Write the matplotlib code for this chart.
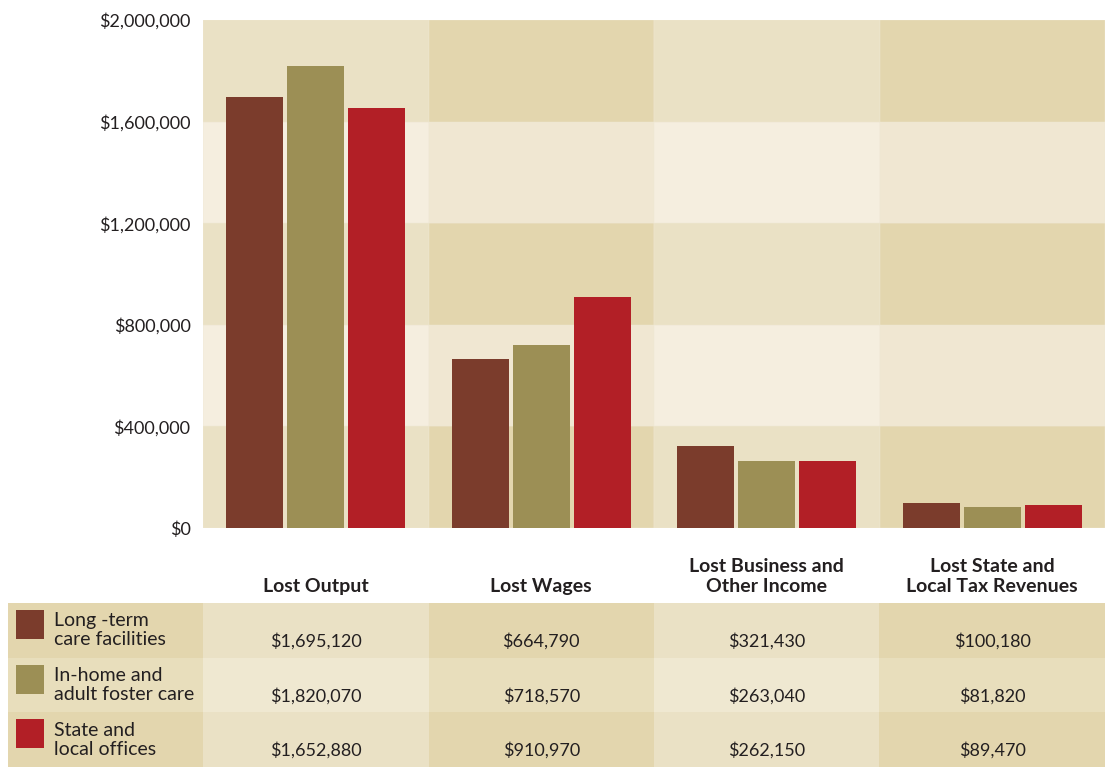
import matplotlib.pyplot as plt
from matplotlib.patches import Rectangle
from matplotlib.ticker import FuncFormatter

categories = ['Lost Output', 'Lost Wages', 'Lost Business and\nOther Income',
              'Lost State and\nLocal Tax Revenues']
series_names = ['Long -term\ncare facilities', 'In-home and\nadult foster care',
                'State and\nlocal offices']
long_term = [1695120, 664790, 321430, 100180]
in_home = [1820070, 718570, 263040, 81820]
state_local = [1652880, 910970, 262150, 89470]
yticks = [0, 400000, 800000, 1200000, 1600000, 2000000]

BAR_COLORS = ['#7B3C2C', '#9C8F55', '#B21F26']
TEXT = '#231F20'
# (dark band, light band) for the two alternating column shades
CHART_BG = [('#EAE1C5', '#F5EEDF'), ('#E3D6AE', '#F0E7D2')]
TABLE_BG = [('#EAE1C5', '#EFE8D1'), ('#E3D6AE', '#E8DEBC')]

plt.rcParams['font.family'] = ['Lato', 'DejaVu Sans']

W, H = 1105, 767
fig = plt.figure(figsize=(W / 100, H / 100), dpi=100)

# ---------------- bar chart ----------------
ax = fig.add_axes([203 / W, (H - 528) / H, 902 / W, 508 / H])
ax.set_xlim(-0.5, len(categories) - 0.5)
ax.set_ylim(yticks[0], yticks[-1])

for i in range(len(categories)):
    dark, light = CHART_BG[i % 2]
    for j in range(len(yticks) - 1):
        ax.add_patch(Rectangle((i - 0.5, yticks[j]), 1, yticks[j + 1] - yticks[j],
                               facecolor=dark if j % 2 == 0 else light,
                               edgecolor='#EFE7D3', linewidth=0.3, zorder=0))

series = [long_term, in_home, state_local]
step, width = 0.27, 0.253
for k, vals in enumerate(series):
    xs = [i + (k - 1) * step for i in range(len(categories))]
    ax.bar(xs, vals, width=width, color=BAR_COLORS[k], zorder=2)

ax.set_xticks([])
ax.set_yticks(yticks)
ax.yaxis.set_major_formatter(FuncFormatter(lambda v, p: f'${v:,.0f}'))
ax.tick_params(axis='y', length=0, pad=9, labelsize=13, labelcolor=TEXT)
for s in ax.spines.values():
    s.set_visible(False)

trans = ax.get_xaxis_transform()
for i, cat in enumerate(categories):
    ax.text(i, -0.131, cat, transform=trans, ha='center', va='bottom',
            fontsize=14, fontweight='bold', color=TEXT, linespacing=1.15)

# ---------------- data table ----------------
px = 902 / len(categories)  # pixels per category unit
tx = fig.add_axes([8 / W, 0, (W - 8) / W, 164 / H])
left = -0.5 - 195 / px
tx.set_xlim(left, len(categories) - 0.5)
tx.set_ylim(len(series), 0)
tx.axis('off')

for i in range(-1, len(categories)):
    dark, light = TABLE_BG[i % 2]
    x0 = left if i < 0 else i - 0.5
    w = 195 / px if i < 0 else 1
    for r in range(len(series)):
        tx.add_patch(Rectangle((x0, r), w, 1, facecolor=dark if r % 2 == 0 else light,
                               edgecolor='none', zorder=0))

for r, (name, vals) in enumerate(zip(series_names, series)):
    tx.add_patch(Rectangle((left + 8 / px, r + 0.13), 28 / px, 0.53,
                           facecolor=BAR_COLORS[r], edgecolor='none', zorder=1))
    tx.text(left + 46 / px, r + 0.50, name, ha='left', va='center',
            fontsize=14, color=TEXT, linespacing=1.15)
    for i, v in enumerate(vals):
        tx.text(i, r + 0.70, f'${v:,}', ha='center', va='center',
                fontsize=13, color=TEXT)

fig.savefig('out.png', dpi=100)
